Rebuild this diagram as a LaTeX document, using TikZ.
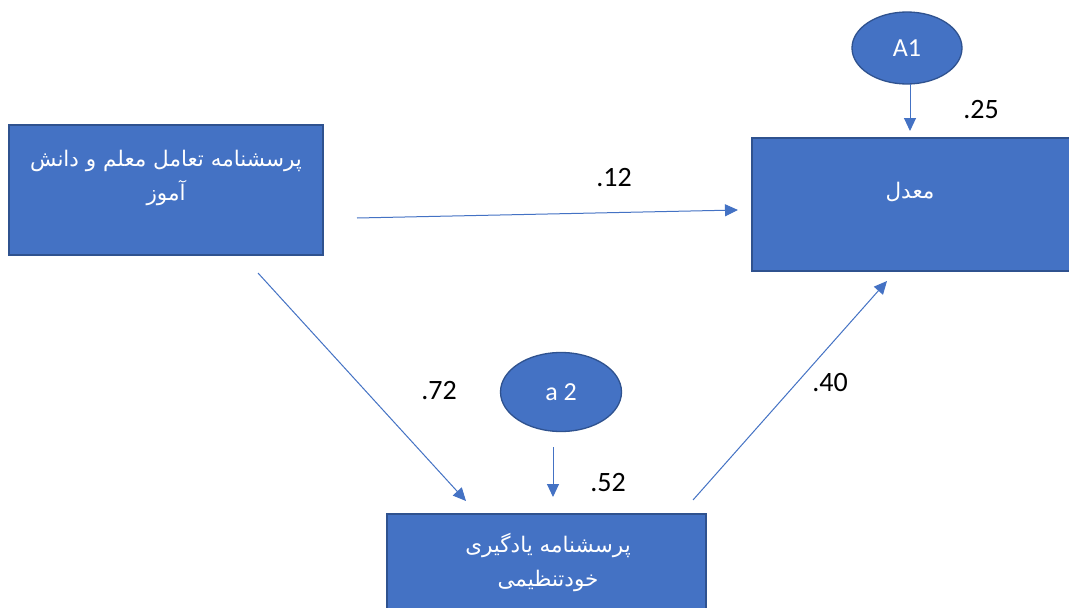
\documentclass[tikz,border=0pt]{standalone}
\usepackage{fontspec}
\setmainfont{Carlito}
\newfontfamily\arabicfont[Script=Arabic]{DejaVu Sans}
\TeXXeTstate=1
\usetikzlibrary{arrows.meta,shapes.geometric}
\definecolor{boxfill}{HTML}{4472C4}
\definecolor{boxline}{HTML}{2F528F}
\definecolor{arrowc}{HTML}{4472C4}
\tikzset{
  box/.style={draw=boxline,fill=boxfill,line width=1.5pt,rectangle,inner sep=0pt},
  latent/.style={draw=boxline,fill=boxfill,line width=1.3pt,ellipse,inner sep=0pt,
     text=white,font=\fontsize{26}{30}\selectfont},
  artext/.style={text=white,align=center,font=\arabicfont\fontsize{21.5}{34}\selectfont},
  coef/.style={text=black,font=\fontsize{28}{32}\selectfont},
  arr/.style={draw=arrowc,line width=1pt,-{Triangle[length=13pt,width=12pt]}}
}
\begin{document}
\begin{tikzpicture}[x=1pt,y=-1pt]
\clip (0,0) rectangle (1069,608);
\useasboundingbox (0,0) rectangle (1069,608);
\fill[white] (0,0) rectangle (1069,608);
% boxes
\node[box,minimum width=314pt,minimum height=130pt] (b1) at (166,190) {};
\node[box,minimum width=320pt,minimum height=133pt] (b2) at (912,204.5) {};
\node[box,minimum width=319pt,minimum height=116pt] (b3) at (546.5,572) {};
% texts
\node[artext] (t1) at (166,178) {\beginR پرسشنامه تعامل معلم و  دانش\endR\\\beginR آموز\endR};
\node[artext] (t2) at (910,192) {\beginR معدل\endR};
\node[artext] (t3) at (548,562) {\beginR پرسشنامه یادگیری\endR\\\beginR خودتنظیمی\endR};
% latent ellipses
\node[latent,minimum width=110pt,minimum height=72pt] (e1) at (907,48) {A1};
\node[latent,minimum width=121pt,minimum height=79pt] (e2) at (561,392) {a 2};
% connector end points
\coordinate (e1s) at (910,84);
\coordinate (b2t) at (910,131);
\coordinate (e2s) at (553,447);
\coordinate (b3t) at (553,497);
\coordinate (b1r) at (357,218);
\coordinate (b2l) at (738,210);
\coordinate (b1b) at (258,273);
\coordinate (b3l) at (466,501);
\coordinate (b3r) at (693,500);
\coordinate (b2b) at (887,281);
% connectors
\draw[arr] (e1s) -- (b2t);
\draw[arr] (e2s) -- (b3t);
\draw[arr] (b1r) -- (b2l);
\draw[arr] (b1b) -- (b3l);
\draw[arr] (b3r) -- (b2b);
% coefficients
\node[coef] (c12) at (614,178) {.12};
\node[coef] (c25) at (981,110) {.25};
\node[coef] (c72) at (439,391) {.72};
\node[coef] (c40) at (830,383) {.40};
\node[coef] (c52) at (608,483) {.52};
\end{tikzpicture}
\end{document}
